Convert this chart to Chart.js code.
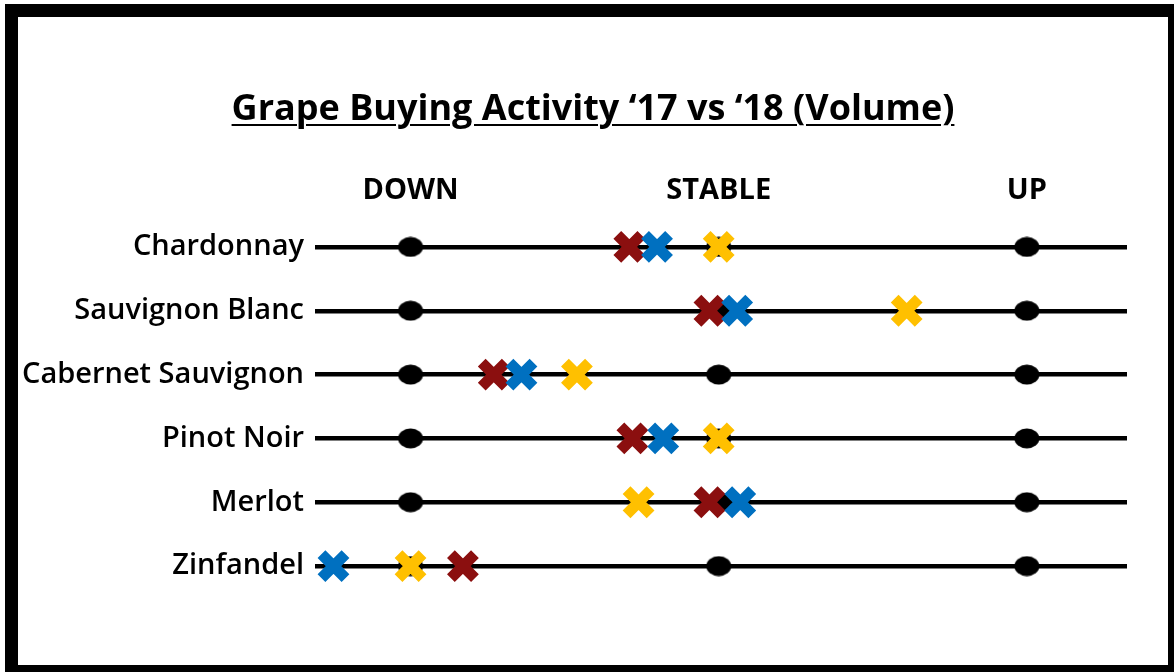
<!DOCTYPE html>
<html>
<head>
<meta charset="utf-8">
<script src="https://cdn.jsdelivr.net/npm/chart.js@4.4.1/dist/chart.umd.min.js"></script>
<style>
    html, body { margin: 0; padding: 0; background: #fff; }
    body { width: 1174px; height: 672px; overflow: hidden; position: relative; }
    #chartBox { position: absolute; left: 0; top: 0; width: 1174px; height: 672px; }
    #frame {
        position: absolute; left: 5px; top: 4px;
        width: 1150px; height: 648px;
        border: 13px solid #000;
        pointer-events: none;
    }
    #title {
        position: absolute; left: 18px; top: 82px; width: 1150px;
        text-align: center;
        font-family: 'Open Sans', sans-serif; font-weight: 700; font-size: 36px;
        text-decoration: underline; text-decoration-thickness: 2px; text-underline-offset: 4px;
        color: #000;
    }
</style>
</head>
<body>
<div id="chartBox"><canvas id="grapeChart" width="1174" height="672"></canvas></div>
<div id="title">Grape Buying Activity ‘17 vs ‘18 (Volume)</div>
<div id="frame"></div>

<script>
// rows, top to bottom
const varieties = ['Chardonnay', 'Sauvignon Blanc', 'Cabernet Sauvignon', 'Pinot Noir', 'Merlot', 'Zinfandel'];

// scale: -1 = down, 0 = stable, 1 = up
const headerTicks = [-1, 0, 1];
const headerLabels = ['DOWN', 'STABLE', 'UP'];
const XMIN = -1.31;
const XMAX = 1.325;

// marker positions per variety
const redMarks    = [-0.29, -0.03, -0.73, -0.28, -0.03, -0.83];
const blueMarks   = [-0.20,  0.06, -0.64, -0.18,  0.07, -1.25];
const yellowMarks = [ 0.00,  0.61, -0.46,  0.00, -0.26, -1.00];

function makeEllipse() {
    const c = document.createElement('canvas');
    c.width = 26; c.height = 21;
    const g = c.getContext('2d');
    g.fillStyle = '#000';
    g.beginPath();
    g.ellipse(13, 10.5, 12.5, 10, 0, 0, Math.PI * 2);
    g.fill();
    return c;
}

function markerSet(label, values, color) {
    return {
        label: label,
        data: values.map((v, i) => ({ x: v, y: varieties[i] })),
        pointStyle: 'crossRot',
        radius: 17,
        borderWidth: 11,
        borderColor: color,
        backgroundColor: color,
        showLine: false
    };
}

const dotData = [];
varieties.forEach(v => headerTicks.forEach(t => dotData.push({ x: t, y: v })));

const ctx = document.getElementById('grapeChart');

const grapeChart = new Chart(ctx, {
    type: 'scatter',
    data: {
        datasets: [
            markerSet('Blue', blueMarks, '#0070C0'),
            markerSet('Yellow', yellowMarks, '#FFC000'),
            markerSet('Red', redMarks, '#8B0F0F'),
            {
                label: 'Scale points',
                data: dotData,
                pointStyle: makeEllipse(),
                radius: 12,
                showLine: false
            }
        ]
    },
    options: {
        responsive: false,
        animation: false,
        events: [],
        layout: {
            padding: { top: 155, right: 47, bottom: 74, left: 0 }
        },
        plugins: {
            legend: { display: false },
            tooltip: { enabled: false },
            title: { display: false }
        },
        scales: {
            x: {
                type: 'linear',
                display: false,
                min: XMIN,
                max: XMAX
            },
            xTop: {
                type: 'linear',
                position: 'top',
                min: XMIN,
                max: XMAX,
                grid: { display: false, drawTicks: false },
                border: { display: false },
                afterBuildTicks: scale => {
                    scale.ticks = headerTicks.map(v => ({ value: v }));
                },
                afterFit: scale => { scale.height = 60; },
                ticks: {
                    autoSkip: false,
                    maxRotation: 0,
                    padding: 7,
                    color: '#000',
                    font: { family: 'Open Sans', weight: 'bold', size: 29 },
                    callback: value => headerLabels[headerTicks.indexOf(value)]
                }
            },
            y: {
                type: 'category',
                labels: varieties,
                offset: true,
                position: 'left',
                afterFit: scale => { scale.width = 315; },
                grid: {
                    offset: false,
                    drawTicks: false,
                    color: '#000',
                    lineWidth: 4.5
                },
                border: { display: false },
                ticks: {
                    padding: 11,
                    color: '#000',
                    font: { family: 'Open Sans', weight: 600, size: 29 }
                }
            }
        }
    }
});
</script>
</body>
</html>
